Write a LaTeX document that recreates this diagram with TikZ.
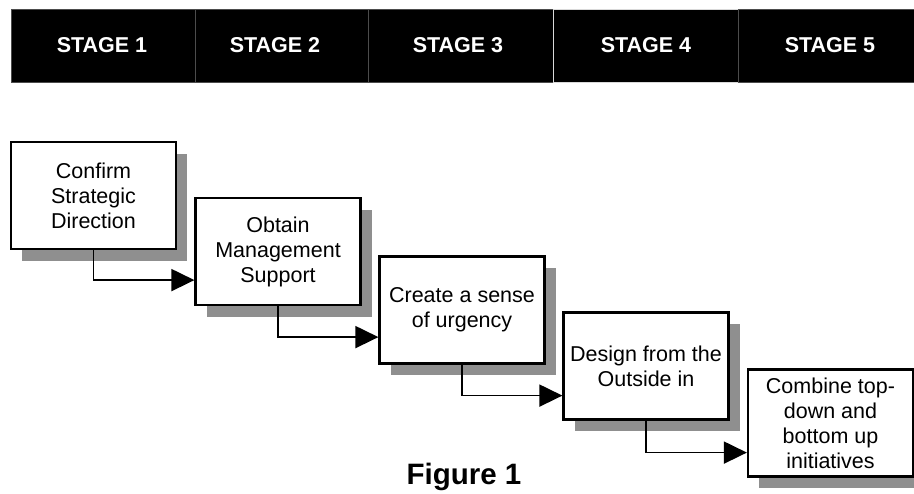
\documentclass[tikz,border=0pt]{standalone}
\usepackage{fontspec}
\setmainfont{Liberation Sans}
\usetikzlibrary{arrows.meta,calc}
\begin{document}
\begin{tikzpicture}[x=1pt,y=-1pt,
  stagecell/.style={fill=black,draw=black!70,line width=0.8pt,minimum height=73pt,inner sep=0pt,anchor=north west},
  stagetext/.style={text=white,font=\fontsize{21.5}{24}\selectfont\bfseries},
  stepbox/.style={draw=black,line width=2.2pt,fill=white,minimum width=165pt,minimum height=107pt,align=center,inner sep=2pt,
    font=\fontsize{21.5}{25}\selectfont},
  shadowbox/.style={fill=black!44,minimum width=165pt,minimum height=107pt,inner sep=0pt},
  conn/.style={line width=1.8pt,-{Triangle[length=23pt,width=22pt]}},
  figlabel/.style={font=\fontsize{29.5}{32}\selectfont\bfseries}
]
\useasboundingbox (0,0) rectangle (914,494);
% stage banner
\node[stagecell,minimum width=184pt] (s1) at (11,9) {};
\node[stagecell,minimum width=173pt] (s2) at (195,9) {};
\node[stagecell,minimum width=185pt] (s3) at (368,9) {};
\node[stagecell,minimum width=185pt,draw=black!15] (s4) at (553,9) {};
\node[stagecell,minimum width=176pt] (s5) at (738,9) {};
\node[stagetext] (t1) at (102,45) {STAGE 1};
\node[stagetext] (t2) at (275,45) {STAGE 2};
\node[stagetext] (t3) at (458,45) {STAGE 3};
\node[stagetext] (t4) at (646,45) {STAGE 4};
\node[stagetext] (t5) at (830,45) {STAGE 5};
% shadows
\node[shadowbox] (h1) at (104.5,207.5) {};
\node[shadowbox] (h2) at (289,263.5) {};
\node[shadowbox] (h3) at (473,322) {};
\node[shadowbox] (h4) at (657,378) {};
\node[shadowbox] (h5) at (841.5,435) {};
% boxes
\node[stepbox] (b1) at (93.5,195.5) {Confirm\\Strategic\\Direction};
\node[stepbox] (b2) at (278,251.5) {Obtain\\Management\\Support};
\node[stepbox] (b3) at (462,310) {Create a sense\\of urgency};
\node[stepbox] (b4) at (646,366) {Design from the\\Outside in};
\node[stepbox] (b5) at (830.5,423) {Combine top-\\down and\\bottom up\\initiatives};
% connectors
\draw[conn] (b1.south) |- ([yshift=-30pt]b1.south -| b2.west);
\draw[conn] (b2.south) |- ([yshift=-31pt]b2.south -| b3.west);
\draw[conn] (b3.south) |- ([yshift=-31pt]b3.south -| b4.west);
\draw[conn] (b4.south) |- ([yshift=-32pt]b4.south -| b5.west);
% caption
\node[figlabel] (fig) at (464,477) {Figure 1};
\end{tikzpicture}
\end{document}
